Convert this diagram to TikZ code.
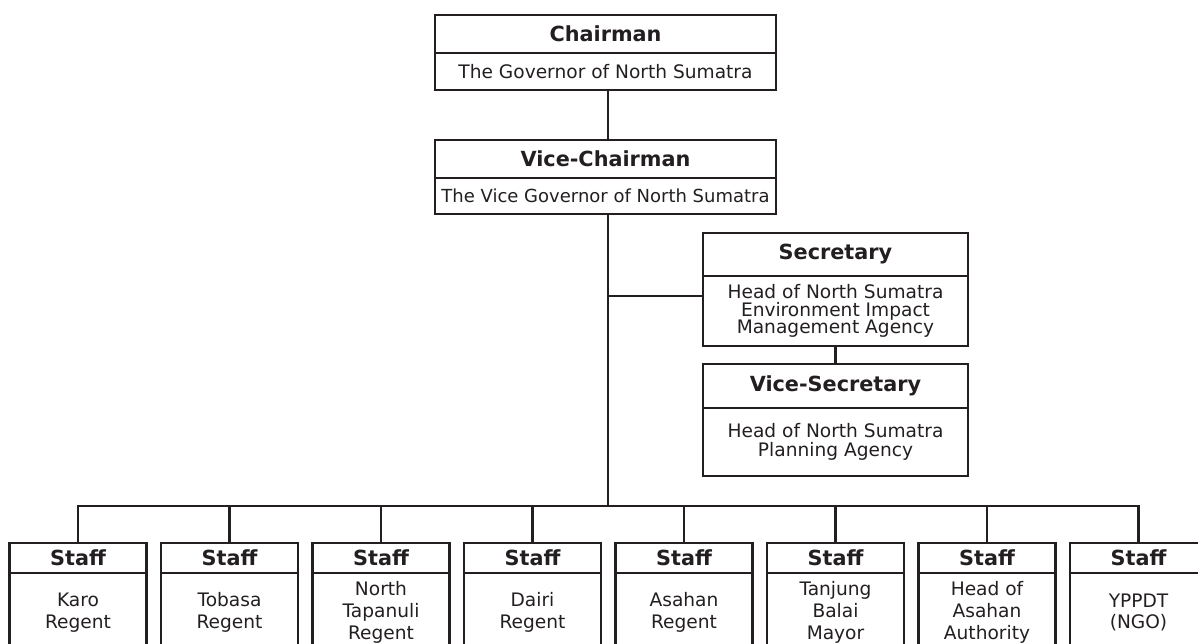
\documentclass[tikz,border=0pt]{standalone}
\usepackage{fontspec}
\setmainfont{DejaVu Sans}
\usetikzlibrary{calc}
\definecolor{ink}{RGB}{35,31,32}
\begin{document}
\begin{tikzpicture}[x=1pt,y=-1pt,
  cell/.style={draw=ink, line width=2.3pt, inner sep=0pt, align=center, text=ink},
  head/.style={cell, font=\fontsize{20.8}{24}\selectfont\bfseries},
  body/.style={cell, font=\fontsize{18.6}{21.7}\selectfont},
  link/.style={draw=ink, line width=2.3pt}]
\useasboundingbox (0,0) rectangle (1198,644);
\clip (0,0) rectangle (1198,644);

% vertical spine and branching points
\coordinate (spine) at (608,0);
\coordinate (junction) at (608,296);
\coordinate (bus) at (608,506);

% Chairman
\node[head, minimum width=341pt, minimum height=38pt] (chh) at (605.5,34) {Chairman};
\node[body, minimum width=341pt, minimum height=37pt] (chb) at (605.5,71.5) {The Governor of North Sumatra};

% Vice-Chairman
\node[head, minimum width=341pt, minimum height=38pt] (vch) at (605.5,159) {Vice-Chairman};
\node[body, minimum width=341pt, minimum height=36pt, font=\fontsize{18}{21.7}\selectfont] (vcb) at (605.5,196)
  {The Vice Governor of North Sumatra};

% Secretary
\node[head, minimum width=265pt, minimum height=43pt] (sech) at (835.5,254.5) {Secretary};
\node[body, minimum width=265pt, minimum height=70pt, font=\fontsize{18.6}{17.7}\selectfont] (secb) at (835.5,311)
  {Head of North Sumatra\\Environment Impact\\Management Agency};

% Vice-Secretary
\node[head, minimum width=265pt, minimum height=44pt] (vsh) at (835.5,386) {Vice-Secretary};
\node[body, minimum width=265pt, minimum height=68pt, font=\fontsize{18.6}{18.3}\selectfont] (vsb) at (835.5,442)
  {Head of North Sumatra\\Planning Agency};

% Staff row
\foreach \i/\t in {1/{Karo\\Regent}, 2/{Tobasa\\Regent}, 3/{North\\Tapanuli\\Regent},
                   4/{Dairi\\Regent}, 5/{Asahan\\Regent}, 6/{Tanjung\\Balai\\Mayor},
                   7/{Head of\\Asahan\\Authority}, 8/{YPPDT\\(NGO)}} {
  \node[head, minimum width=137pt, minimum height=30pt] (sh\i) at ({78+151.5*(\i-1)},558) {Staff};
  \node[body, minimum width=137pt, minimum height=79pt] (sb\i) at ({78+151.5*(\i-1)},612.5) {\t};
}

% connectors
\draw[link] (chb.south -| spine) -- (vch.north -| spine);
\draw[link] (vcb.south -| spine) -- (bus);
\draw[link] (junction) -- (junction -| secb.west);
\draw[link] (secb.south) -- (vsh.north);
\draw[link] (sh1.north) -- (sh1.north |- bus) -- (sh8.north |- bus) -- (sh8.north);
\foreach \i in {2,...,7} {
  \draw[link] (sh\i.north |- bus) -- (sh\i.north);
}
\end{tikzpicture}
\end{document}
